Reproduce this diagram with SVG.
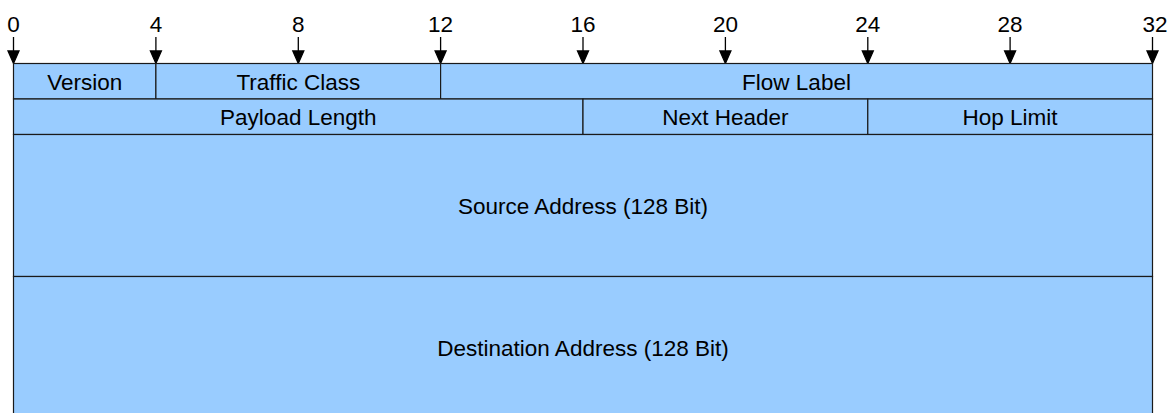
<svg xmlns="http://www.w3.org/2000/svg" xmlns:xlink="http://www.w3.org/1999/xlink" width="1174" height="413" viewBox="0 0 1174 413">
<style>
.f{fill:#99ccff;stroke:#1a1a1a;stroke-width:1.2}
.t{font-family:"Liberation Sans",Arial,sans-serif;font-size:22.5px;fill:#000;text-anchor:middle}
</style>
<defs>
<polygon id="head" points="-5.5,0 5.5,0 0,12.5" fill="#000"/>
</defs>
<rect width="1174" height="413" fill="#fff"/>
<g id="scale" class="t">
<text x="13.5" y="31.5">0</text>
<text x="155.9" y="31.5">4</text>
<text x="298.3" y="31.5">8</text>
<text x="440.6" y="31.5">12</text>
<text x="583" y="31.5">16</text>
<text x="725.4" y="31.5">20</text>
<text x="867.8" y="31.5">24</text>
<text x="1010.1" y="31.5">28</text>
<text x="1155" y="31.5">32</text>
</g>
<g id="connectors" stroke="#000" stroke-width="1.3">
<line x1="13.5" y1="37" x2="13.5" y2="51"/><use xlink:href="#head" x="13.5" y="51"/>
<line x1="155.9" y1="37" x2="155.9" y2="51"/><use xlink:href="#head" x="155.9" y="51"/>
<line x1="298.3" y1="37" x2="298.3" y2="51"/><use xlink:href="#head" x="298.3" y="51"/>
<line x1="440.6" y1="37" x2="440.6" y2="51"/><use xlink:href="#head" x="440.6" y="51"/>
<line x1="583" y1="37" x2="583" y2="51"/><use xlink:href="#head" x="583" y="51"/>
<line x1="725.4" y1="37" x2="725.4" y2="51"/><use xlink:href="#head" x="725.4" y="51"/>
<line x1="867.8" y1="37" x2="867.8" y2="51"/><use xlink:href="#head" x="867.8" y="51"/>
<line x1="1010.1" y1="37" x2="1010.1" y2="51"/><use xlink:href="#head" x="1010.1" y="51"/>
<line x1="1152.5" y1="37" x2="1152.5" y2="51"/><use xlink:href="#head" x="1152.5" y="51"/>
</g>
<g id="version"><rect class="f" x="13.5" y="63.5" width="142.4" height="35.5"/><text class="t" x="84.7" y="89.5">Version</text></g>
<g id="traffic-class"><rect class="f" x="155.9" y="63.5" width="284.7" height="35.5"/><text class="t" x="298.3" y="89.5">Traffic Class</text></g>
<g id="flow-label"><rect class="f" x="440.6" y="63.5" width="711.9" height="35.5"/><text class="t" x="796.5" y="89.5">Flow Label</text></g>
<g id="payload-length"><rect class="f" x="13.5" y="99" width="569.5" height="35.5"/><text class="t" x="298.3" y="125">Payload Length</text></g>
<g id="next-header"><rect class="f" x="583" y="99" width="284.8" height="35.5"/><text class="t" x="725.4" y="125">Next Header</text></g>
<g id="hop-limit"><rect class="f" x="867.8" y="99" width="284.7" height="35.5"/><text class="t" x="1010.1" y="125">Hop Limit</text></g>
<g id="source-address"><rect class="f" x="13.5" y="134.5" width="1139" height="142"/><text class="t" x="583" y="214">Source Address (128 Bit)</text></g>
<g id="destination-address"><rect class="f" x="13.5" y="276.5" width="1139" height="142"/><text class="t" x="583" y="356">Destination Address (128 Bit)</text></g>
</svg>
